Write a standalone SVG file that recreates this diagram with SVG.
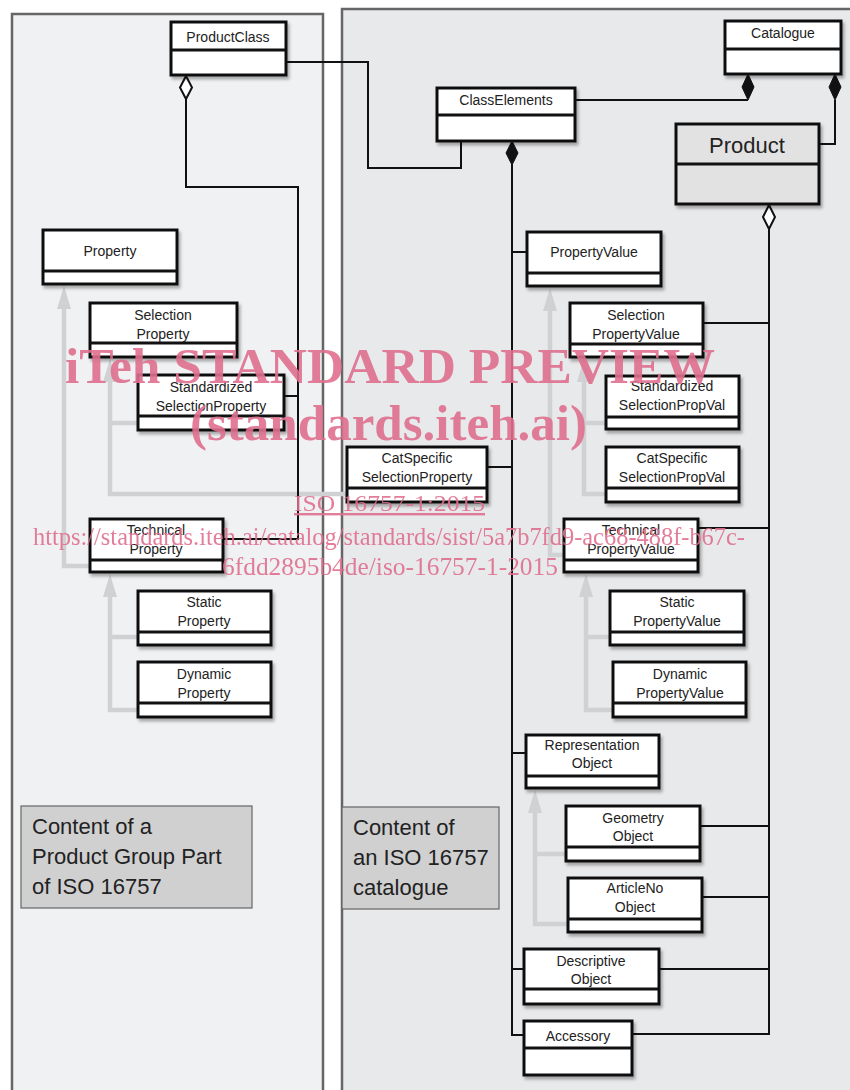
<svg xmlns="http://www.w3.org/2000/svg" width="850" height="1090" viewBox="0 0 850 1090">
<defs>
<filter id="sh" x="-10%" y="-10%" width="130%" height="140%">
<feDropShadow dx="2" dy="3" stdDeviation="1.5" flood-color="#000" flood-opacity="0.3"/>
</filter>
<style>
.box{fill:#fff;stroke:#111;stroke-width:3;filter:url(#sh)}
.div{stroke:#111;stroke-width:3}
.lbl{font-family:"Liberation Sans",Arial,sans-serif;font-size:14px;fill:#222;text-anchor:middle}
.wire{fill:none;stroke:#111;stroke-width:2}
.inh{fill:none;stroke:#d0d1d3;stroke-width:4.5}
.inhh{fill:#d0d1d3;stroke:none}
.cap{font-family:"Liberation Sans",Arial,sans-serif;font-size:22px;fill:#222}
.wm{font-family:"Liberation Serif","Times New Roman",serif;fill:#e0708f;opacity:0.9}
</style>
</defs>
<rect x="0" y="0" width="850" height="1090" fill="#fff"/>
<g id="panels">
<rect x="12" y="14" width="311" height="1090" fill="#f0f1f3" stroke="#666" stroke-width="2.5"/>
<rect x="342" y="9" width="520" height="1095" fill="#e8e9eb" stroke="#666" stroke-width="2.5"/>
</g>
<g id="captions">
<rect x="21" y="806" width="231" height="102" fill="#d0d0d1" stroke="#666" stroke-width="1.2"/>
<text class="cap" x="32" y="834">Content of a</text>
<text class="cap" x="32" y="864">Product Group Part</text>
<text class="cap" x="32" y="894">of ISO 16757</text>
<rect x="342" y="807" width="157" height="102" fill="#d0d0d1" stroke="#666" stroke-width="1.2"/>
<text class="cap" x="353" y="835">Content of</text>
<text class="cap" x="353" y="865">an ISO 16757</text>
<text class="cap" x="353" y="895">catalogue</text>
</g>
<g id="connectors">
<!-- inheritance (grey) -->
<polyline class="inh" points="64,306 64,566 90,566"/>
<polygon class="inhh" points="64,286 57,309 71,309"/>
<polyline class="inh" points="110,379 110,494 347,494"/>
<polyline class="inh" points="110,423 138,423"/>
<polygon class="inhh" points="110,359 103,382 117,382"/>
<polyline class="inh" points="110,595 110,710 138,710"/>
<polyline class="inh" points="110,637 138,637"/>
<polygon class="inhh" points="110,574 103,597 117,597"/>
<polyline class="inh" points="550,308 550,555 564,555"/>
<polygon class="inhh" points="550,288 543,311 557,311"/>
<polyline class="inh" points="584,379 584,494 606,494"/>
<polyline class="inh" points="584,423 606,423"/>
<polygon class="inhh" points="584,359 577,382 591,382"/>
<polyline class="inh" points="586,595 586,710 613,710"/>
<polyline class="inh" points="586,637 610,637"/>
<polygon class="inhh" points="586,574 579,597 593,597"/>
<polyline class="inh" points="535,810 535,924 568,924"/>
<polyline class="inh" points="535,854 566,854"/>
<polygon class="inhh" points="535,790 528,813 542,813"/>
<!-- associations (black) -->
<polyline class="wire" points="186,99 186,187 298,187 298,539 224,539"/>
<polyline class="wire" points="298,396 284,396"/>
<polygon points="186,76 192,87.5 186,99 180,87.5" fill="#fff" stroke="#111" stroke-width="2"/>
<polyline class="wire" points="286,62 368,62 368,168 461,168 461,141"/>
<polyline class="wire" points="575,100 748,100"/>
<polygon points="748,74 754,87 748,100 742,87" fill="#111" stroke="#111" stroke-width="1"/>
<polyline class="wire" points="835,100 835,144 819,144"/>
<polygon points="835,74 841,87 835,100 829,87" fill="#111" stroke="#111" stroke-width="1"/>
<polyline class="wire" points="512,164 512,1035 524,1035"/>
<polyline class="wire" points="512,252 527,252"/>
<polyline class="wire" points="488,467 512,467"/>
<polyline class="wire" points="512,753 526,753"/>
<polyline class="wire" points="512,969 524,969"/>
<polygon points="512,141 518,153 512,165 506,153" fill="#111" stroke="#111" stroke-width="1"/>
<polyline class="wire" points="769,229 769,1034 632,1034"/>
<polyline class="wire" points="703,323 769,323"/>
<polyline class="wire" points="698,528 769,528"/>
<polyline class="wire" points="700,826 769,826"/>
<polyline class="wire" points="702,897 769,897"/>
<polyline class="wire" points="659,969 769,969"/>
<polygon points="769,205 775,217 769,229 763,217" fill="#fff" stroke="#111" stroke-width="2"/>
</g>
<g id="ProductClass"><rect class="box" x="171" y="22" width="115" height="53"/><line class="div" x1="171" y1="50" x2="286" y2="50"/><text class="lbl" x="228" y="42">ProductClass</text></g>
<g id="ClassElements"><rect class="box" x="437" y="88" width="138" height="53"/><line class="div" x1="437" y1="115" x2="575" y2="115"/><text class="lbl" x="506" y="105">ClassElements</text></g>
<g id="Catalogue"><rect class="box" x="725" y="21" width="116" height="53"/><line class="div" x1="725" y1="49" x2="841" y2="49"/><text class="lbl" x="783" y="38">Catalogue</text></g>
<g id="Product"><rect class="box" x="676" y="124" width="143" height="80" style="fill:#e2e2e3"/><line class="div" x1="676" y1="164" x2="819" y2="164"/><text class="lbl" x="747" y="153" style="font-size:22px">Product</text></g>
<g id="Property"><rect class="box" x="43" y="230" width="134" height="54"/><line class="div" x1="43" y1="271" x2="177" y2="271"/><text class="lbl" x="110" y="256">Property</text></g>
<g id="SelectionProperty"><rect class="box" x="90" y="303" width="147" height="54"/><line class="div" x1="90" y1="343" x2="237" y2="343"/><text class="lbl" x="163" y="320">Selection</text><text class="lbl" x="163" y="339">Property</text></g>
<g id="StandardizedSelectionProperty"><rect class="box" x="138" y="375" width="146" height="55"/><line class="div" x1="138" y1="416" x2="284" y2="416"/><text class="lbl" x="211" y="392">Standardized</text><text class="lbl" x="211" y="411">SelectionProperty</text></g>
<g id="CatSpecificSelectionProperty"><rect class="box" x="347" y="447" width="140" height="55"/><line class="div" x1="347" y1="488" x2="487" y2="488"/><text class="lbl" x="417" y="463">CatSpecific</text><text class="lbl" x="417" y="482">SelectionProperty</text></g>
<g id="TechnicalProperty"><rect class="box" x="90" y="519" width="133" height="53"/><line class="div" x1="90" y1="560" x2="223" y2="560"/><text class="lbl" x="156" y="535">Technical</text><text class="lbl" x="156" y="554">Property</text></g>
<g id="StaticProperty"><rect class="box" x="138" y="591" width="133" height="54"/><line class="div" x1="138" y1="632" x2="271" y2="632"/><text class="lbl" x="204" y="607">Static</text><text class="lbl" x="204" y="626">Property</text></g>
<g id="DynamicProperty"><rect class="box" x="138" y="662" width="133" height="55"/><line class="div" x1="138" y1="703" x2="271" y2="703"/><text class="lbl" x="204" y="679">Dynamic</text><text class="lbl" x="204" y="698">Property</text></g>
<g id="PropertyValue"><rect class="box" x="527" y="232" width="134" height="54"/><line class="div" x1="527" y1="273" x2="661" y2="273"/><text class="lbl" x="594" y="257">PropertyValue</text></g>
<g id="SelectionPropertyValue"><rect class="box" x="570" y="303" width="133" height="54"/><line class="div" x1="570" y1="344" x2="703" y2="344"/><text class="lbl" x="636" y="320">Selection</text><text class="lbl" x="636" y="339">PropertyValue</text></g>
<g id="StandardizedSelectionPropVal"><rect class="box" x="606" y="376" width="133" height="53"/><line class="div" x1="606" y1="417" x2="739" y2="417"/><text class="lbl" x="672" y="391">Standardized</text><text class="lbl" x="672" y="410">SelectionPropVal</text></g>
<g id="CatSpecificSelectionPropVal"><rect class="box" x="606" y="447" width="133" height="55"/><line class="div" x1="606" y1="488" x2="739" y2="488"/><text class="lbl" x="672" y="463">CatSpecific</text><text class="lbl" x="672" y="482">SelectionPropVal</text></g>
<g id="TechnicalPropertyValue"><rect class="box" x="564" y="519" width="134" height="53"/><line class="div" x1="564" y1="560" x2="698" y2="560"/><text class="lbl" x="631" y="535">Technical</text><text class="lbl" x="631" y="554">PropertyValue</text></g>
<g id="StaticPropertyValue"><rect class="box" x="610" y="591" width="134" height="54"/><line class="div" x1="610" y1="632" x2="744" y2="632"/><text class="lbl" x="677" y="607">Static</text><text class="lbl" x="677" y="626">PropertyValue</text></g>
<g id="DynamicPropertyValue"><rect class="box" x="613" y="662" width="133" height="55"/><line class="div" x1="613" y1="703" x2="746" y2="703"/><text class="lbl" x="680" y="679">Dynamic</text><text class="lbl" x="680" y="698">PropertyValue</text></g>
<g id="RepresentationObject"><rect class="box" x="526" y="735" width="133" height="53"/><line class="div" x1="526" y1="776" x2="659" y2="776"/><text class="lbl" x="592" y="750">Representation</text><text class="lbl" x="592" y="768">Object</text></g>
<g id="GeometryObject"><rect class="box" x="566" y="806" width="134" height="55"/><line class="div" x1="566" y1="847" x2="700" y2="847"/><text class="lbl" x="633" y="823">Geometry</text><text class="lbl" x="633" y="841">Object</text></g>
<g id="ArticleNoObject"><rect class="box" x="568" y="878" width="134" height="54"/><line class="div" x1="568" y1="919" x2="702" y2="919"/><text class="lbl" x="635" y="893">ArticleNo</text><text class="lbl" x="635" y="912">Object</text></g>
<g id="DescriptiveObject"><rect class="box" x="524" y="949" width="135" height="55"/><line class="div" x1="524" y1="989" x2="659" y2="989"/><text class="lbl" x="591" y="966">Descriptive</text><text class="lbl" x="591" y="984">Object</text></g>
<g id="Accessory"><rect class="box" x="524" y="1021" width="108" height="54"/><line class="div" x1="524" y1="1048" x2="632" y2="1048"/><text class="lbl" x="578" y="1041">Accessory</text></g>
<g id="watermark">
<text class="wm" x="65" y="383" font-size="50" font-weight="bold" textLength="650" lengthAdjust="spacingAndGlyphs">iTeh STANDARD PREVIEW</text>
<text class="wm" x="190" y="440" font-size="50" font-weight="bold" textLength="397" lengthAdjust="spacingAndGlyphs">(standards.iteh.ai)</text>
<text class="wm" x="294" y="511" font-size="24" text-decoration="underline" textLength="191" lengthAdjust="spacingAndGlyphs">ISO 16757-1:2015</text>
<text class="wm" x="33" y="545" font-size="25" textLength="712" lengthAdjust="spacingAndGlyphs">https://standards.iteh.ai/catalog/standards/sist/5a7b7fd9-ac68-488f-b67c-</text>
<text class="wm" x="222" y="575" font-size="25" textLength="336" lengthAdjust="spacingAndGlyphs">6fdd2895b4de/iso-16757-1-2015</text>
</g>
</svg>
